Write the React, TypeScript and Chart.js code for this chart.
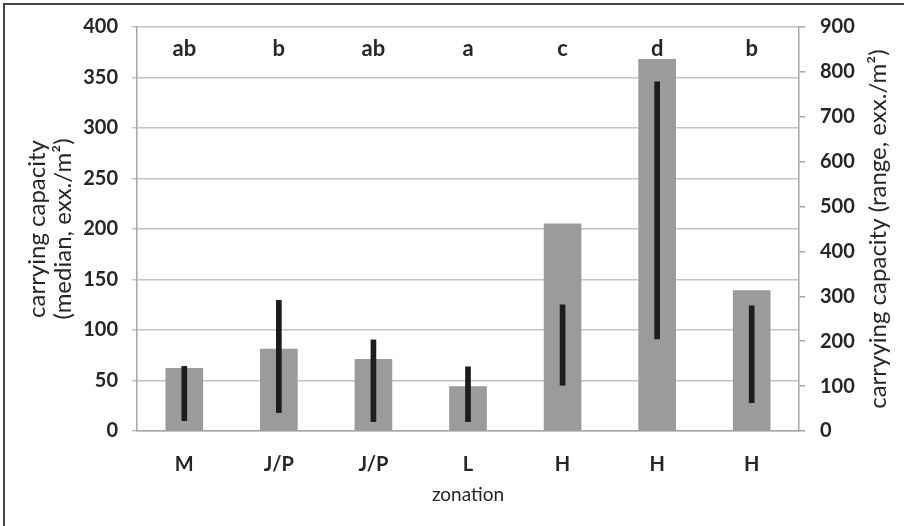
import React, { useEffect, useRef } from 'react';
import { Chart, registerables } from 'chart.js';

Chart.register(...registerables);

// zonation categories along the x axis
const zones = ['M', 'J/P', 'J/P', 'L', 'H', 'H', 'H'];
// significance letters above each group
const groupLetters = ['ab', 'b', 'ab', 'a', 'c', 'd', 'b'];
// median carrying capacity (left axis, exx./m²)
const medianValues = [62, 81, 71, 44, 205, 368, 139];
// range min / max (right axis, exx./m²)
const rangeMin = [23, 41, 21, 21, 102, 205, 63];
const rangeMax = [144, 291, 203, 143, 281, 778, 279];

const FONT = "Lato, 'DejaVu Sans', sans-serif";
const TEXT = '#262626';

export default function App() {
  const canvasRef = useRef<HTMLCanvasElement | null>(null);
  const chartRef = useRef<Chart | null>(null);

  useEffect(() => {
    document.body.style.margin = '0';
    if (!canvasRef.current) return;
    const ctx = canvasRef.current.getContext('2d');
    if (!ctx) return;

    // letters above bars, right-hand title and the frame lines
    const extrasPlugin = {
      id: 'extras',
      afterDraw(chart: any) {
        const c = chart.ctx;
        const { chartArea, scales } = chart;
        c.save();
        c.fillStyle = TEXT;
        c.font = `bold 22px ${FONT}`;
        c.textAlign = 'center';
        c.textBaseline = 'alphabetic';
        groupLetters.forEach((t, i) => {
          c.fillText(t, scales.x.getPixelForValue(i), chartArea.top + 29);
        });

        c.translate(878, (chartArea.top + chartArea.bottom) / 2);
        c.rotate(-Math.PI / 2);
        c.font = `24px ${FONT}`;
        c.textBaseline = 'middle';
        c.fillText('carryying capacity (range, exx./m²)', 0, 0);
        c.restore();

        c.save();
        c.strokeStyle = '#444444';
        c.lineWidth = 2;
        c.beginPath();
        c.moveTo(4, chart.height);
        c.lineTo(4, 4);
        c.lineTo(chart.width, 4);
        c.stroke();
        c.restore();
      },
    };

    chartRef.current = new Chart(ctx, {
      type: 'bar',
      plugins: [extrasPlugin],
      data: {
        labels: zones,
        datasets: [
          {
            label: 'range',
            data: rangeMin.map((lo, i) => [lo, rangeMax[i]]),
            yAxisID: 'y1',
            backgroundColor: '#1c1c1c',
            barThickness: 5,
            grouped: false,
            order: 0,
          },
          {
            label: 'median',
            data: medianValues,
            yAxisID: 'y',
            backgroundColor: '#9b9b9b',
            barThickness: 37,
            grouped: false,
            order: 1,
          },
        ],
      },
      options: {
        responsive: false,
        animation: false,
        layout: { padding: { top: 24, left: 0, right: 0, bottom: 0 } },
        plugins: { legend: { display: false }, tooltip: { enabled: false } },
        scales: {
          x: {
            grid: { display: false, drawTicks: false },
            border: { display: true, color: '#a6a6a6', width: 1.5 },
            ticks: { color: TEXT, font: { family: FONT, size: 20, weight: 'bold' }, padding: 22 },
            title: {
              display: true,
              text: 'zonation',
              color: TEXT,
              font: { family: FONT, size: 19 },
              padding: { top: 0, bottom: 20 },
            },
            afterFit: (s: any) => { s.height = 95; },
          },
          y: {
            position: 'left',
            min: 0,
            max: 400,
            ticks: { stepSize: 50, color: TEXT, font: { family: FONT, size: 20, weight: 'bold' }, padding: 14 },
            grid: { color: '#c4c4c4', lineWidth: 1.5, tickLength: 5 },
            border: { display: true, color: '#a6a6a6', width: 1.5 },
            title: {
              display: true,
              text: ['carrying capacity', '(median, exx./m²)'],
              color: TEXT,
              font: { family: FONT, size: 24, lineHeight: 1.05 },
              padding: { top: 25, bottom: 0 },
            },
            afterFit: (s: any) => { s.width = 137; },
          },
          y1: {
            position: 'right',
            min: 0,
            max: 900,
            ticks: { stepSize: 100, color: TEXT, font: { family: FONT, size: 20, weight: 'bold' }, padding: 15 },
            grid: { drawOnChartArea: false, color: '#a6a6a6', lineWidth: 1.5, tickLength: 6 },
            border: { display: true, color: '#a6a6a6', width: 1.5 },
            afterFit: (s: any) => { s.width = 105; },
          },
        },
      } as any,
    });

    return () => {
      if (chartRef.current) {
        chartRef.current.destroy();
        chartRef.current = null;
      }
    };
  }, []);

  return (
    <div style={{ width: 904, height: 526, background: '#ffffff' }}>
      <canvas ref={canvasRef} width={904} height={526} />
    </div>
  );
}
